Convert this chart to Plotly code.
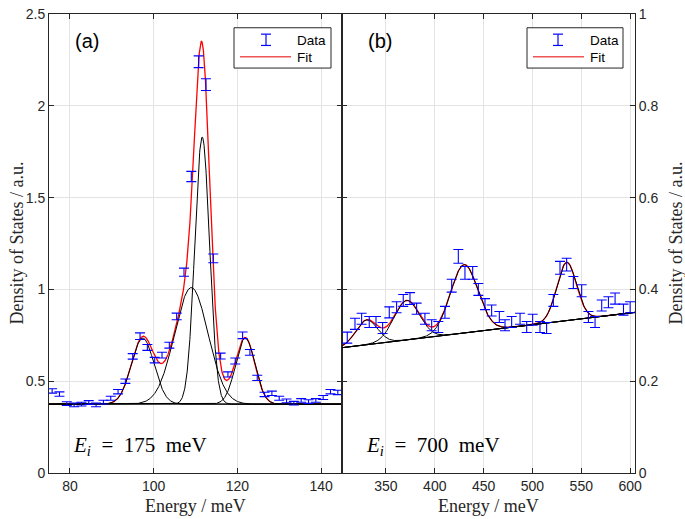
import numpy as np
import plotly.graph_objects as go
from plotly.subplots import make_subplots

# ---------------- Panel (a): Ei = 175 meV ----------------
a_energy = [75.75, 77.5, 79.25, 81.0, 82.75, 84.5, 86.25, 88.0, 89.75, 91.5,
            93.25, 95.0, 96.75, 98.5, 100.25, 102.0, 103.75, 105.5, 107.25, 109.0,
            110.75, 112.5, 114.25, 116.0, 117.75, 119.5, 121.25, 123.0, 124.75, 126.5,
            128.25, 130.0, 131.75, 133.5, 135.25, 137.0, 138.75, 140.5, 142.25, 144.0]
a_dos = [0.447, 0.430, 0.378, 0.371, 0.375, 0.384, 0.371, 0.386, 0.407, 0.443,
         0.500, 0.635, 0.745, 0.684, 0.615, 0.642, 0.696, 0.853, 1.094, 1.615,
         2.240, 2.115, 1.169, 0.637, 0.537, 0.610, 0.750, 0.657, 0.518, 0.428,
         0.434, 0.407, 0.393, 0.380, 0.395, 0.389, 0.395, 0.411, 0.443, 0.439]
a_err = [0.012, 0.012, 0.010, 0.010, 0.010, 0.010, 0.010, 0.010, 0.011, 0.012,
         0.012, 0.015, 0.018, 0.016, 0.015, 0.016, 0.016, 0.018, 0.022, 0.028,
         0.032, 0.032, 0.024, 0.016, 0.014, 0.016, 0.018, 0.016, 0.014, 0.012,
         0.012, 0.011, 0.010, 0.010, 0.010, 0.010, 0.010, 0.011, 0.012, 0.012]
# fit parameters
a_baseline = 0.375
a_centers = [97.4, 109.0, 111.6, 121.9]
a_amps = [0.36, 0.635, 1.455, 0.36]
a_sigmas = [2.7, 4.0, 1.75, 2.3]

# ---------------- Panel (b): Ei = 700 meV ----------------
b_energy = [310.4, 318.3, 325.1, 332.9, 339.8, 346.6, 353.4, 360.9, 367.7, 374.6,
            381.4, 389.9, 396.8, 403.6, 410.4, 417.3, 424.1, 430.9, 438.8, 444.6,
            451.4, 458.2, 466.1, 471.9, 478.7, 487.3, 494.1, 500.2, 507.7, 514.5,
            521.4, 528.2, 535.0, 541.9, 550.4, 557.3, 564.1, 570.9, 577.8, 584.6,
            593.2, 600.0]
b_dos = [0.295, 0.325, 0.336, 0.329, 0.329, 0.316, 0.350, 0.361, 0.376, 0.380,
         0.358, 0.336, 0.322, 0.318, 0.350, 0.408, 0.472, 0.436, 0.436, 0.400,
         0.368, 0.354, 0.340, 0.322, 0.329, 0.336, 0.318, 0.334, 0.318, 0.316,
         0.376, 0.447, 0.454, 0.415, 0.397, 0.340, 0.329, 0.365, 0.372, 0.380,
         0.356, 0.361]
b_err = [0.012, 0.012, 0.012, 0.012, 0.012, 0.012, 0.012, 0.012, 0.013, 0.013,
         0.012, 0.012, 0.012, 0.012, 0.013, 0.014, 0.015, 0.014, 0.014, 0.013,
         0.012, 0.012, 0.012, 0.012, 0.012, 0.012, 0.012, 0.012, 0.012, 0.012,
         0.013, 0.014, 0.014, 0.013, 0.013, 0.012, 0.012, 0.012, 0.012, 0.012,
         0.012, 0.012]
b_base_ends = [0.273, 0.350]       # linear background at x-range ends
b_centers = [330.2, 371.2, 430.0, 535.0]
b_amps = [0.054, 0.086, 0.149, 0.127]
b_sigmas = [11.0, 13.0, 14.0, 10.0]

a_xrange = [75, 145]
b_xrange = [305, 605]

legend_labels = ['Data', 'Fit']

BLUE = '#0000ff'
RED = '#ff0000'
AX = '#262626'
GRID = '#e3e3e3'
SANS = 'Liberation Sans, Arial, sans-serif'
SERIF = 'Liberation Serif, Times New Roman, serif'


def gauss(x, c, a, s):
    return a * np.exp(-(x - c) ** 2 / (2 * s ** 2))


fig = make_subplots(rows=1, cols=2, horizontal_spacing=0)

# ---- panel a curves
xa = np.linspace(a_xrange[0], a_xrange[1], 1401)
fit_a = a_baseline + sum(gauss(xa, c, a, s) for c, a, s in zip(a_centers, a_amps, a_sigmas))
fig.add_trace(go.Scatter(x=xa, y=fit_a, mode='lines', line=dict(color=RED, width=1.3),
                         name='Fit', showlegend=False), row=1, col=1)
fig.add_trace(go.Scatter(x=a_xrange, y=[a_baseline, a_baseline], mode='lines',
                         line=dict(color='black', width=1), showlegend=False), row=1, col=1)
for c, a, s in zip(a_centers, a_amps, a_sigmas):
    fig.add_trace(go.Scatter(x=xa, y=a_baseline + gauss(xa, c, a, s), mode='lines',
                             line=dict(color='black', width=1), showlegend=False), row=1, col=1)
fig.add_trace(go.Scatter(x=a_energy, y=a_dos, mode='markers', name='Data',
                         marker=dict(size=1, color='rgba(0,0,0,0)'),
                         error_y=dict(type='data', array=a_err, color=BLUE, thickness=1.1, width=5),
                         showlegend=False), row=1, col=1)

# ---- panel b curves
xb = np.linspace(b_xrange[0], b_xrange[1], 1401)
base_b = b_base_ends[0] + (xb - b_xrange[0]) * (b_base_ends[1] - b_base_ends[0]) / (b_xrange[1] - b_xrange[0])
fit_b = base_b + sum(gauss(xb, c, a, s) for c, a, s in zip(b_centers, b_amps, b_sigmas))
fig.add_trace(go.Scatter(x=xb, y=fit_b, mode='lines', line=dict(color=RED, width=1.3),
                         name='Fit', showlegend=False), row=1, col=2)
fig.add_trace(go.Scatter(x=b_xrange, y=b_base_ends, mode='lines',
                         line=dict(color='black', width=1), showlegend=False), row=1, col=2)
for c, a, s in zip(b_centers, b_amps, b_sigmas):
    fig.add_trace(go.Scatter(x=xb, y=base_b + gauss(xb, c, a, s), mode='lines',
                             line=dict(color='black', width=1), showlegend=False), row=1, col=2)
fig.add_trace(go.Scatter(x=b_energy, y=b_dos, mode='markers', name='Data',
                         marker=dict(size=1, color='rgba(0,0,0,0)'),
                         error_y=dict(type='data', array=b_err, color=BLUE, thickness=1.1, width=5),
                         showlegend=False), row=1, col=2)

axis_common = dict(showline=True, linecolor=AX, linewidth=1, mirror='ticks', ticks='inside',
                   ticklen=5, tickwidth=1, tickcolor=AX, showgrid=True, gridcolor=GRID,
                   gridwidth=1, zeroline=False, ticklabeloverflow='allow',
                   tickfont=dict(family=SANS, size=14, color=AX))

fig.update_xaxes(range=a_xrange, tickvals=[80, 100, 120, 140], **axis_common, row=1, col=1)
fig.update_xaxes(range=b_xrange, tickvals=[350, 400, 450, 500, 550, 600], **axis_common, row=1, col=2)
fig.update_yaxes(range=[0, 2.5], tickvals=[0, 0.5, 1, 1.5, 2, 2.5],
                 ticktext=['0', '0.5', '1', '1.5', '2', '2.5'], **axis_common, row=1, col=1)
fig.update_yaxes(range=[0, 1], tickvals=[0, 0.2, 0.4, 0.6, 0.8, 1],
                 ticktext=['0', '0.2', '0.4', '0.6', '0.8', '1'], side='right', **axis_common, row=1, col=2)

L, R, T, B = 49, 50, 6, 46
W, H = 685, 519
PW, PH = W - L - R, H - T - B


def px(xp):
    return (xp - L) / PW


def py(yp):
    return (H - B - yp) / PH


shapes = []
annotations = []


def add_legend(x0, x1, y0, y1, sym_x, line_x0, line_x1, text_x):
    shapes.append(dict(type='rect', x0=px(x0), x1=px(x1), y0=py(y0), y1=py(y1),
                       line=dict(color=AX, width=1), fillcolor='white', layer='above'))
    # errorbar symbol
    shapes.append(dict(type='line', x0=px(sym_x), x1=px(sym_x), y0=py(26.5), y1=py(38),
                       line=dict(color=BLUE, width=1.2), layer='above'))
    for yy in (26.5, 38):
        shapes.append(dict(type='line', x0=px(sym_x - 5), x1=px(sym_x + 5), y0=py(yy), y1=py(yy),
                           line=dict(color=BLUE, width=1.2), layer='above'))
    shapes.append(dict(type='line', x0=px(line_x0), x1=px(line_x1), y0=py(49.5), y1=py(49.5),
                       line=dict(color='#ee5555', width=1.5), layer='above'))
    for lab, yy in zip(legend_labels, (32.5, 50.5)):
        annotations.append(dict(text=lab, x=px(text_x), y=py(yy), xanchor='left', yanchor='middle',
                                font=dict(family=SANS, size=13.5, color='black')))


add_legend(234, 331, 20, 61, 266, 240, 291, 295)
add_legend(527, 623, 20, 61, 558, 533, 584, 588)

ei_txt = '<i>E</i><sub><i>i</i></sub>\u00a0\u00a0=\u00a0\u00a0{}\u00a0\u00a0meV'
annotations += [
    dict(text='(a)', x=px(73), y=py(33), xanchor='left', yanchor='middle',
         font=dict(family=SANS, size=20, color='black')),
    dict(text='(b)', x=px(366), y=py(33), xanchor='left', yanchor='middle',
         font=dict(family=SANS, size=20, color='black')),
    dict(text=ei_txt.format(175), x=px(71), y=py(446), xanchor='left', yanchor='middle',
         font=dict(family=SERIF, size=21, color='black')),
    dict(text=ei_txt.format(700), x=px(364), y=py(446), xanchor='left', yanchor='middle',
         font=dict(family=SERIF, size=21, color='black')),
    dict(text='Energy / meV', x=px(195.5), y=py(507), xanchor='center', yanchor='middle',
         font=dict(family=SERIF, size=18, color=AX)),
    dict(text='Energy / meV', x=px(488.5), y=py(507), xanchor='center', yanchor='middle',
         font=dict(family=SERIF, size=18, color=AX)),
    dict(text='Density of States / a.u.', x=px(16), y=py(239.5), xanchor='center', yanchor='middle',
         textangle=-90, font=dict(family=SERIF, size=18, color=AX)),
    dict(text='Density of States / a.u.', x=px(675), y=py(239.5), xanchor='center', yanchor='middle',
         textangle=-90, font=dict(family=SERIF, size=18, color=AX)),
]
for a in annotations:
    a.update(xref='paper', yref='paper', showarrow=False)
for s in shapes:
    s.update(xref='paper', yref='paper')

fig.update_layout(
    width=W, height=H,
    margin=dict(l=L, r=R, t=T, b=B),
    paper_bgcolor='white', plot_bgcolor='white',
    showlegend=False,
    shapes=shapes,
    annotations=annotations,
)

fig.write_html('out.html', config={'displayModeBar': False},
               post_script="document.body.style.margin='0';document.body.style.padding='0';")
